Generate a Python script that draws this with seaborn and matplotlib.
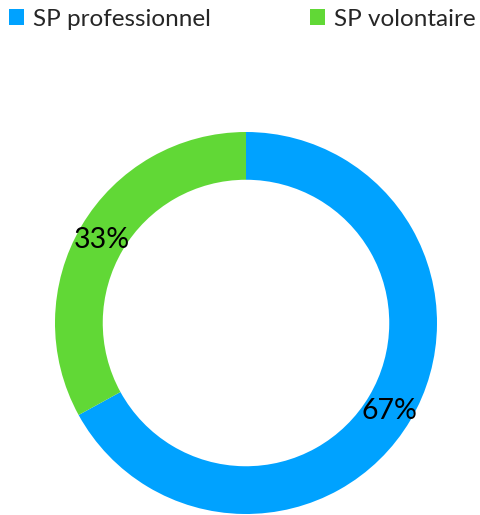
import matplotlib
matplotlib.use("Agg")
import matplotlib.pyplot as plt
import seaborn as sns
from matplotlib.patches import Patch

# données
categories = ["SP professionnel", "SP volontaire"]
valeurs = [67, 33]
couleurs = ["#00A2FF", "#61D836"]

sns.set_theme(style="white")
plt.rcParams["font.family"] = ["Lato", "DejaVu Sans"]

fig = plt.figure(figsize=(4.8, 5.15), dpi=100)
ax = fig.add_axes([55 / 480, 1 / 515, 382 / 480, 382 / 515])

wedges, textes = ax.pie(
    valeurs,
    colors=couleurs,
    startangle=90,
    counterclock=False,
    radius=1,
    wedgeprops=dict(width=0.25, linewidth=0),
    labels=[f"{v}%" for v in valeurs],
    labeldistance=0.875,
    textprops=dict(fontsize=20.5, color="black"),
)
for t in textes:
    t.set_horizontalalignment("center")
    t.set_verticalalignment("center_baseline")
ax.set_xlim(-1, 1)
ax.set_ylim(-1, 1)
ax.set_aspect("equal")
ax.axis("off")

poignees = [Patch(facecolor=c, edgecolor="none") for c in couleurs]
fig.legend(
    poignees, categories,
    loc="upper left", bbox_to_anchor=(0.006, 0.995),
    ncol=2, frameon=False, fontsize=17.5,
    handlelength=0.62, handleheight=0.62, handletextpad=0.35,
    columnspacing=4.1, borderaxespad=0.0, borderpad=0.25,
)

fig.savefig("out.png", dpi=100)
